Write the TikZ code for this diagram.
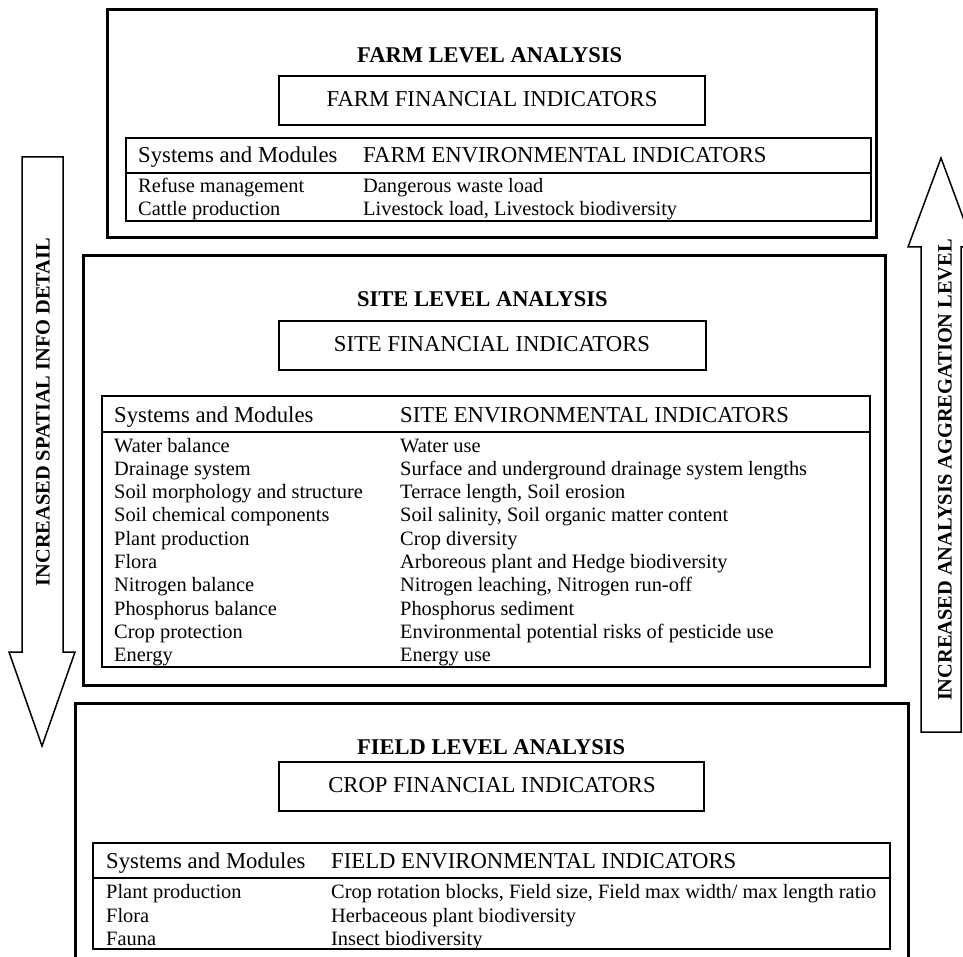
\documentclass[tikz,border=0pt]{standalone}
\usepackage{fontspec}
\setmainfont{Liberation Serif}
\begin{document}
\begin{tikzpicture}[x=1pt,y=-1pt,
  outerbox/.style={draw=black,line width=3pt},
  innerbox/.style={draw=black,line width=1.2pt},
  arrowshape/.style={draw=black,line width=1.5pt,line join=miter},
  bodytext/.style={font=\fontsize{20.4}{24}\selectfont,anchor=base west,inner sep=0pt},
  headtext/.style={font=\fontsize{22.7}{27}\selectfont,anchor=base west,inner sep=0pt},
  fintext/.style={font=\fontsize{22.7}{27}\selectfont,anchor=base,inner sep=0pt},
  titletext/.style={font=\bfseries\fontsize{22.5}{27}\selectfont,anchor=base west,inner sep=0pt},
  arrowlabel/.style={font=\bfseries\fontsize{20.4}{24}\selectfont,rotate=90,inner sep=0pt}]
\useasboundingbox (0,0) rectangle (963,957);
\clip (0,0) rectangle (963,957);
\fill[white] (0,0) rectangle (963,957);

% ---------- FARM ----------
\draw[outerbox] (107,10) rectangle (876,238);
\node[titletext] (farmtitle) at (357,63) {FARM LEVEL ANALYSIS};
\draw[innerbox] (279,76) rectangle (705,125);
\node[fintext] (farmfin) at (492,107) {FARM FINANCIAL INDICATORS};
\draw[innerbox] (126,138) rectangle (871,221);
\draw[innerbox] (126,173) -- (871,173);
\node[headtext] (farmh1) at (138,163) {Systems and Modules};
\node[headtext] (farmh2) at (363,163) {FARM ENVIRONMENTAL INDICATORS};
\node[bodytext] (farma1) at (138,193) {Refuse management};
\node[bodytext] (farmb1) at (363,193) {Dangerous waste load};
\node[bodytext] (farma2) at (138,216) {Cattle production};
\node[bodytext] (farmb2) at (363,216) {Livestock load, Livestock biodiversity};

% ---------- SITE ----------
\draw[outerbox] (83,256) rectangle (885,685);
\node[titletext] (sitetitle) at (357,307) {SITE LEVEL ANALYSIS};
\draw[innerbox] (279,321) rectangle (706,370);
\node[fintext] (sitefin) at (492,352) {SITE FINANCIAL INDICATORS};
\draw[innerbox] (102,396) rectangle (870,667);
\draw[innerbox] (102,432) -- (870,432);
\node[headtext] (siteh1) at (114,422) {Systems and Modules};
\node[headtext] (siteh2) at (400,422) {SITE ENVIRONMENTAL INDICATORS};
\foreach \a/\b [count=\i from 0] in {
  Water balance/Water use,
  Drainage system/Surface and underground drainage system lengths,
  Soil morphology and structure/{Terrace length, Soil erosion},
  Soil chemical components/{Soil salinity, Soil organic matter content},
  Plant production/Crop diversity,
  Flora/Arboreous plant and Hedge biodiversity,
  Nitrogen balance/{Nitrogen leaching, Nitrogen run-off},
  Phosphorus balance/Phosphorus sediment,
  Crop protection/Environmental potential risks of pesticide use,
  Energy/Energy use}{
  \node[bodytext] (sitea\i) at (114,452+23.3*\i) {\a};
  \node[bodytext] (siteb\i) at (400,452+23.3*\i) {\b};
}

% ---------- FIELD ----------
\draw[outerbox] (75,990) -- (75,703) -- (908,703) -- (908,990);
\node[titletext] (fieldtitle) at (357,754) {FIELD LEVEL ANALYSIS};
\draw[innerbox] (279,762) rectangle (704,811);
\node[fintext] (fieldfin) at (492,792) {CROP FINANCIAL INDICATORS};
\draw[innerbox] (93,843) rectangle (890,949);
\draw[innerbox] (93,878) -- (890,878);
\node[headtext] (fieldh1) at (106,868) {Systems and Modules};
\node[headtext] (fieldh2) at (331,868) {FIELD ENVIRONMENTAL INDICATORS};
\node[bodytext] (fielda1) at (106,898) {Plant production};
\node[bodytext] (fieldb1) at (331,898) {Crop rotation blocks, Field size, Field max width/ max length ratio};
\node[bodytext] (fielda2) at (106,922) {Flora};
\node[bodytext] (fieldb2) at (331,922) {Herbaceous plant biodiversity};
\node[bodytext] (fielda3) at (106,945) {Fauna};
\node[bodytext] (fieldb3) at (331,945) {Insect biodiversity};

% ---------- ARROWS ----------
\draw[arrowshape] (22,157) -- (63,157) -- (63,652) -- (75,652) -- (42,746) -- (9,652) -- (22,652) -- cycle;
\node[arrowlabel] (leftlabel) at (43,412) {INCREASED SPATIAL INFO DETAIL};

\draw[arrowshape] (921,732) -- (921,247) -- (908,247) -- (941,158) -- (974,247) -- (961,247) -- (961,732) -- cycle;
\node[arrowlabel] (rightlabel) at (945,470) {INCREASED ANALYSIS AGGREGATION LEVEL};
\end{tikzpicture}
\end{document}
